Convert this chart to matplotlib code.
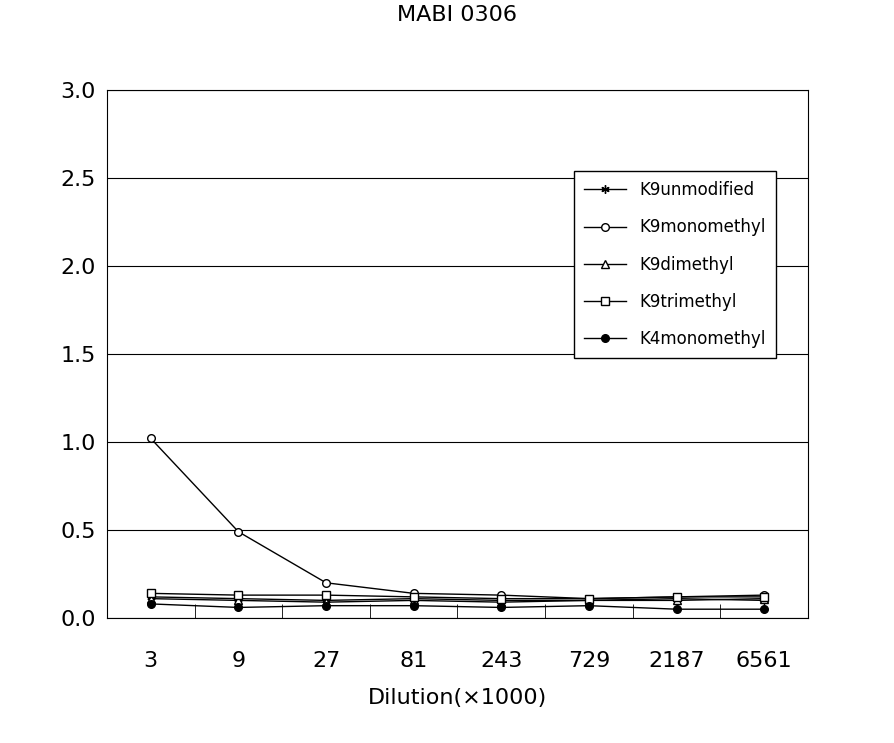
import numpy as np
import matplotlib.pyplot as plt

dilutions = ['3', '9', '27', '81', '243', '729', '2187', '6561']
k9_unmod = [0.12, 0.11, 0.10, 0.11, 0.10, 0.10, 0.11, 0.10]
k9_mono = [1.02, 0.49, 0.20, 0.14, 0.13, 0.11, 0.12, 0.13]
k9_di = [0.11, 0.10, 0.09, 0.10, 0.09, 0.10, 0.10, 0.11]
k9_tri = [0.14, 0.13, 0.13, 0.12, 0.11, 0.11, 0.12, 0.12]
k4_mono = [0.08, 0.06, 0.07, 0.07, 0.06, 0.07, 0.05, 0.05]

fig = plt.figure(figsize=(8.95, 7.43), dpi=100)
ax = fig.add_axes([107/895, 1-618/743, 701/895, 528/743])
x = np.arange(len(dilutions))
style = dict(color='black', lw=1, ms=6)
ax.plot(x, k9_unmod, marker=(6, 2, 0), mfc='black', label='K9unmodified', **style)
ax.plot(x, k9_mono, marker='o', mfc='white', ms=5.5, color='black', lw=1, label='K9monomethyl')
ax.plot(x, k9_di, marker='^', mfc='white', label='K9dimethyl', **style)
ax.plot(x, k9_tri, marker='s', mfc='white', ms=5.5, color='black', lw=1, label='K9trimethyl')
ax.plot(x, k4_mono, marker='o', mfc='black', ms=5.5, color='black', lw=1, label='K4monomethyl')

ax.set_xlim(-0.5, len(dilutions) - 0.5)
ax.set_ylim(0, 3.0)
ax.set_yticks(np.arange(0, 3.01, 0.5))
ax.set_yticklabels([f'{v:.1f}' for v in np.arange(0, 3.01, 0.5)], fontsize=16)
ax.yaxis.grid(True, color='black', lw=0.8)
ax.set_axisbelow(True)
ax.set_xticks(x)
ax.set_xticklabels(dilutions, fontsize=16)
ax.tick_params(axis='x', length=0, pad=24)
ax.tick_params(axis='y', length=0, pad=8)
ax.set_xticks(np.arange(0.5, len(dilutions) - 1, 1), minor=True)
ax.tick_params(axis='x', which='minor', direction='in', length=10)
ax.set_xlabel('Dilution(\u00d71000)', fontsize=16, labelpad=12)
ax.set_title('MABI 0306', fontsize=16, pad=50)
ax.legend(loc='upper left', bbox_to_anchor=(0.655, 0.862), fancybox=False,
          edgecolor='black', fontsize=12, labelspacing=1.15, handlelength=2.5,
          framealpha=1, borderpad=0.6)
fig.savefig('out.png')
